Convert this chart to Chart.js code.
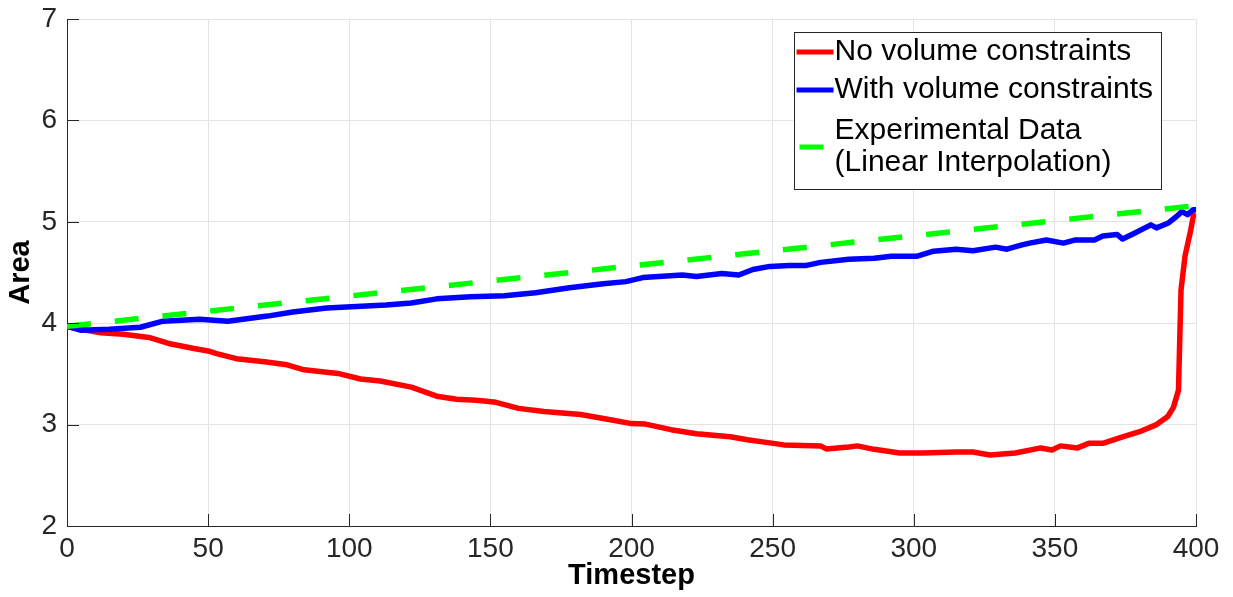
<!DOCTYPE html>
<html>
<head>
<meta charset="utf-8">
<script src="https://cdn.jsdelivr.net/npm/chart.js@4.4.1/dist/chart.umd.min.js"></script>
<style>
  html, body { margin: 0; padding: 0; background: #fff; }
  #wrap { width: 1233px; height: 597px; }
</style>
</head>
<body>
<div id="wrap"><canvas id="areaChart" width="1233" height="597"></canvas></div>
<script>
// timesteps / area values
const redSteps = [0, 5, 12, 20, 29, 36, 45, 50, 53, 60, 70, 78, 84, 96, 104, 111, 122, 131, 138, 145,
  152, 160, 169, 182, 192, 200, 205, 214, 223, 235, 241, 249, 254, 267, 269, 277, 280, 286, 295, 303,
  315, 321, 327, 336, 345, 349, 352, 358, 362, 367, 374, 380, 386, 390, 392, 393.8, 394.3, 394.7, 396.1, 398, 399, 400];
const redArea = [3.965, 3.94, 3.906, 3.89, 3.86, 3.80, 3.75, 3.726, 3.70, 3.65, 3.62, 3.59, 3.54, 3.505, 3.45, 3.43, 3.37, 3.28, 3.25, 3.24,
  3.22, 3.16, 3.13, 3.10, 3.05, 3.01, 3.005, 2.95, 2.91, 2.88, 2.85, 2.82, 2.80, 2.79, 2.76, 2.78, 2.79, 2.756, 2.72, 2.72,
  2.73, 2.73, 2.70, 2.72, 2.77, 2.75, 2.79, 2.77, 2.815, 2.815, 2.88, 2.93, 3.00, 3.08, 3.17, 3.34, 3.9, 4.33, 4.66, 4.9, 5.05, 5.08];

const blueSteps = [0, 5, 15, 26, 34, 47, 57, 71, 80, 92, 113, 122, 131, 143, 155, 166, 178, 190, 198, 204,
  218, 223, 232, 238, 243, 249, 256, 262, 267, 277, 286, 292, 301, 307, 315, 321, 329, 333, 338, 341,
  347, 353, 357, 364, 367, 372, 374, 378, 384, 386, 390, 393, 395, 397, 399, 400];
const blueArea = [3.97, 3.93, 3.94, 3.96, 4.02, 4.04, 4.02, 4.07, 4.11, 4.15, 4.18, 4.20, 4.24, 4.26, 4.27, 4.30, 4.35, 4.39, 4.41, 4.45,
  4.475, 4.46, 4.49, 4.475, 4.53, 4.56, 4.57, 4.57, 4.60, 4.63, 4.64, 4.66, 4.66, 4.71, 4.73, 4.715, 4.75, 4.73, 4.77, 4.79,
  4.82, 4.79, 4.82, 4.82, 4.86, 4.875, 4.83, 4.885, 4.97, 4.94, 4.985, 5.05, 5.10, 5.07, 5.12, 5.12];

const expSteps = [0, 400];
const expArea = [3.97, 5.16];

const xTicks = [0, 50, 100, 150, 200, 250, 300, 350, 400];
const yTicks = [2, 3, 4, 5, 6, 7];

const FONT = "'Liberation Sans', Arial, Helvetica, sans-serif";
const AXIS = '#262626';

const toPoints = (xs, ys) => xs.map((x, i) => ({ x: x, y: ys[i] }));

// matlab style: ticks pointing inward + legend box in the top right
const matlabBits = {
  id: 'matlabBits',
  afterDatasetsDraw(chart) {
    const ctx = chart.ctx;
    const a = chart.chartArea;
    const sx = chart.scales.x, sy = chart.scales.y;
    ctx.save();
    ctx.strokeStyle = AXIS;
    ctx.lineWidth = 1;
    ctx.beginPath();
    xTicks.forEach(v => {
      const px = Math.round(sx.getPixelForValue(v)) + 0.5;
      ctx.moveTo(px, a.bottom);
      ctx.lineTo(px, a.bottom - 12);
    });
    yTicks.forEach(v => {
      const py = Math.round(sy.getPixelForValue(v)) + 0.5;
      ctx.moveTo(a.left, py);
      ctx.lineTo(a.left + 12, py);
    });
    ctx.stroke();

    // legend
    ctx.font = '30px ' + FONT;
    const sets = chart.data.datasets;
    let maxW = 0;
    sets.forEach(ds => ds.label.split('\n').forEach(t => { maxW = Math.max(maxW, ctx.measureText(t).width); }));
    const boxW = 41 + maxW + 8;
    const boxR = a.right - 35;
    const boxL = boxR - boxW;
    const boxT = a.top + 13;
    let centers = [];
    let cy = boxT + 20, prevH = 0;
    sets.forEach((ds, i) => {
      const n = ds.label.split('\n').length;
      const h = 32 * n;
      if (i > 0) cy += prevH / 2 + h / 2 + 6 + 3 * (n - 1);
      centers.push(cy);
      prevH = h;
    });
    const last = sets[sets.length - 1].label.split('\n').length;
    const boxB = centers[centers.length - 1] + 16 * last + 10;
    ctx.fillStyle = '#fff';
    ctx.fillRect(boxL, boxT, boxW, boxB - boxT);
    ctx.strokeStyle = AXIS;
    ctx.strokeRect(Math.round(boxL) + 0.5, Math.round(boxT) + 0.5, Math.round(boxW), Math.round(boxB - boxT));
    sets.forEach((ds, i) => {
      const lines = ds.label.split('\n');
      const c = centers[i];
      ctx.strokeStyle = ds.borderColor;
      ctx.lineWidth = 5;
      ctx.setLineDash(ds.borderDash || []);
      ctx.beginPath();
      ctx.moveTo(boxL + (ds.borderDash ? 6 : 3), c);
      ctx.lineTo(boxL + 40, c);
      ctx.stroke();
      ctx.setLineDash([]);
      ctx.fillStyle = '#000';
      ctx.textBaseline = 'middle';
      ctx.textAlign = 'left';
      lines.forEach((t, k) => {
        ctx.fillText(t, boxL + 41, c + (k - (lines.length - 1) / 2) * 32);
      });
    });
    ctx.restore();
  }
};

const ctxA = document.getElementById('areaChart').getContext('2d');
const areaChart = new Chart(ctxA, {
  type: 'line',
  data: {
    datasets: [{
      label: 'No volume constraints',
      data: toPoints(redSteps, redArea),
      borderColor: '#ff0000',
      borderWidth: 5.5,
      order: 3
    }, {
      label: 'With volume constraints',
      data: toPoints(blueSteps, blueArea),
      borderColor: '#0000ff',
      borderWidth: 5.5,
      order: 2
    }, {
      label: 'Experimental Data\n(Linear Interpolation)',
      data: toPoints(expSteps, expArea),
      borderColor: '#00ff00',
      borderWidth: 5.5,
      borderDash: [24, 24],
      borderCapStyle: 'butt',
      order: 1
    }]
  },
  options: {
    responsive: false,
    animation: false,
    layout: { padding: { top: 19, right: 37, left: 0, bottom: 0 } },
    elements: {
      point: { radius: 0, hoverRadius: 0 },
      line: { tension: 0, fill: false, borderJoinStyle: 'round' }
    },
    plugins: {
      legend: { display: false },
      tooltip: { enabled: false }
    },
    scales: {
      x: {
        type: 'linear',
        min: 0,
        max: 400,
        afterBuildTicks: s => { s.ticks = xTicks.map(v => ({ value: v })); },
        afterFit: s => { s.height = 71; s.paddingLeft = 0; s.paddingRight = 0; },
        grid: { color: '#e3e3e3', drawTicks: false },
        border: { display: true, color: AXIS, width: 1 },
        ticks: { color: AXIS, padding: 6, font: { family: FONT, size: 28 } },
        title: {
          display: true,
          text: 'Timestep',
          color: '#000',
          padding: { top: 0, bottom: 4 },
          font: { family: FONT, size: 29, weight: 'bold' }
        }
      },
      y: {
        type: 'linear',
        min: 2,
        max: 7,
        afterBuildTicks: s => { s.ticks = yTicks.map(v => ({ value: v })); },
        afterFit: s => { s.width = 67; s.paddingTop = 0; s.paddingBottom = 0; },
        grid: { color: '#e3e3e3', drawTicks: false },
        border: { display: true, color: AXIS, width: 1 },
        ticks: { color: AXIS, padding: 10, font: { family: FONT, size: 28 } },
        title: {
          display: true,
          text: 'Area',
          color: '#000',
          padding: { top: 4, bottom: 0 },
          font: { family: FONT, size: 29, weight: 'bold' }
        }
      }
    }
  },
  plugins: [matlabBits]
});
</script>
</body>
</html>
